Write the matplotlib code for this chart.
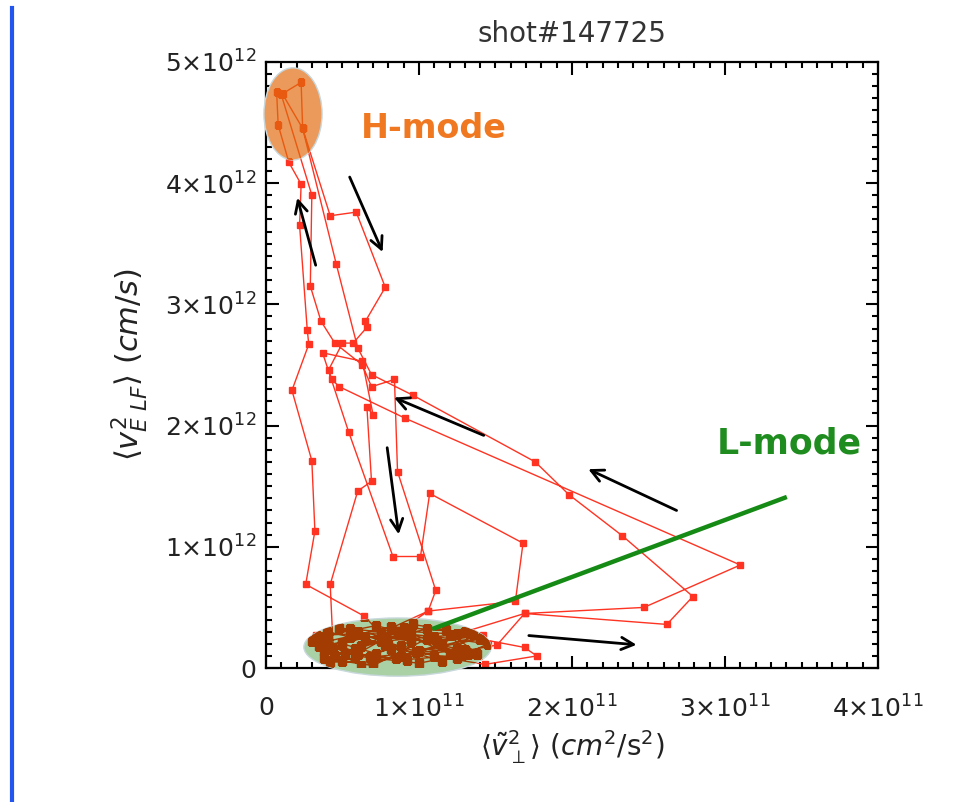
import matplotlib.pyplot as plt
from matplotlib.patches import Ellipse
from matplotlib.ticker import MultipleLocator, FixedLocator, FixedFormatter
import numpy as np

# units used for the arrays below
X_UNIT = 1e11
Y_UNIT = 1e12

# trajectory (time ordered), x in 1e11 cm^2/s^2, y in 1e12 cm/s
x_vals = [0.50, 0.72, 0.95, 0.60, 0.38, 0.85, 1.15, 1.30, 1.05, 0.78, 0.64,
          0.26, 0.32, 0.30, 0.17, 0.28, 0.27, 0.22, 0.23, 0.15, 0.08, 0.07, 0.11,
          0.24, 0.46, 0.60, 0.69, 0.96, 1.76, 1.98, 2.33, 2.79, 2.62, 1.69, 1.51,
          1.20, 0.90, 0.62, 0.42, 0.70, 1.00, 1.40, 1.69, 1.77, 1.43, 1.10, 0.80,
          0.55, 0.95, 1.25, 0.68, 0.40, 0.82, 1.18, 1.38, 0.92, 0.52, 0.33, 0.75,
          1.06, 1.11, 0.86, 0.84, 0.69, 0.63, 0.45, 0.36, 0.29, 0.30, 0.10, 0.23, 0.24,
          0.42, 0.59, 0.78, 0.65, 0.66, 0.57, 0.50, 0.41, 0.43, 0.48, 0.91, 3.10, 2.47, 1.69,
          1.25, 0.95, 0.65, 0.35, 0.50, 0.82, 1.25, 1.45, 1.10,
          0.48, 0.88, 1.32, 1.00, 0.58, 0.36, 0.72, 1.12, 1.42, 0.98, 0.62, 0.44,
          0.42, 0.60, 0.69, 0.66, 0.70, 0.63, 0.37, 0.54, 0.83, 1.01, 1.07, 1.68, 1.63, 1.06,
          0.90, 0.60, 0.30, 0.55, 0.88, 1.30, 1.20, 0.75, 0.45,
          0.40, 0.78, 1.15, 1.35, 0.96, 0.58, 0.38, 0.70, 1.05, 1.28, 0.86, 0.50]
y_vals = [0.20, 0.12, 0.22, 0.30, 0.14, 0.08, 0.20, 0.30, 0.32, 0.25, 0.43,
          0.69, 1.13, 1.71, 2.29, 2.67, 2.79, 3.65, 3.99, 4.17, 4.48, 4.75, 4.73,
          4.45, 3.33, 2.64, 2.42, 2.25, 1.70, 1.43, 1.09, 0.59, 0.36, 0.45, 0.19,
          0.12, 0.28, 0.18, 0.05, 0.05, 0.14, 0.24, 0.17, 0.10, 0.03, 0.10, 0.20,
          0.26, 0.24, 0.16, 0.09, 0.22, 0.34, 0.31, 0.12, 0.07, 0.12, 0.27, 0.29,
          0.47, 0.64, 1.62, 2.38, 2.32, 2.50, 2.68, 2.86, 3.15, 3.90, 4.73, 4.83, 4.45,
          3.73, 3.76, 3.14, 2.86, 2.81, 2.68, 2.68, 2.46, 2.38, 2.32, 2.06, 0.85, 0.50, 0.45,
          0.28, 0.30, 0.25, 0.18, 0.06, 0.16, 0.08, 0.20, 0.26,
          0.33, 0.18, 0.12, 0.04, 0.10, 0.26, 0.35, 0.22, 0.27, 0.13, 0.02, 0.15,
          0.69, 1.46, 1.54, 2.15, 2.09, 2.53, 2.60, 1.95, 0.92, 0.92, 1.44, 1.03, 0.55, 0.47,
          0.33, 0.12, 0.22, 0.32, 0.10, 0.15, 0.27, 0.22, 0.10,
          0.30, 0.19, 0.06, 0.28, 0.36, 0.16, 0.08, 0.02, 0.24, 0.11, 0.30, 0.21]

x_ticks = [0, 1, 2, 3, 4]
x_tick_labels = ['0', r'$1{\times}10^{11}$', r'$2{\times}10^{11}$', r'$3{\times}10^{11}$', r'$4{\times}10^{11}$']
y_ticks = [0, 1, 2, 3, 4, 5]
y_tick_labels = ['0', r'$1{\times}10^{12}$', r'$2{\times}10^{12}$', r'$3{\times}10^{12}$',
                 r'$4{\times}10^{12}$', r'$5{\times}10^{12}$']

# direction arrows: (start x, start y, end x, end y)
arrows = [(0.54, 4.07, 0.77, 3.41),
          (0.33, 3.30, 0.20, 3.90),
          (1.44, 1.91, 0.82, 2.24),
          (0.79, 1.84, 0.87, 1.08),
          (2.70, 1.29, 2.09, 1.65),
          (1.70, 0.27, 2.44, 0.19)]

x = np.array(x_vals) * X_UNIT
y = np.array(y_vals) * Y_UNIT

fig = plt.figure(figsize=(9.67, 8.02), dpi=100)
ax = fig.add_axes([0.275, 0.167, 0.633, 0.756])

ax.plot(x, y, '-s', color='#ff3322', lw=1.0, ms=5, zorder=2)

ax.set_xlim(0, 4 * X_UNIT)
ax.set_ylim(0, 5 * Y_UNIT)
ax.xaxis.set_major_locator(FixedLocator([t * X_UNIT for t in x_ticks]))
ax.xaxis.set_major_formatter(FixedFormatter(x_tick_labels))
ax.yaxis.set_major_locator(FixedLocator([t * Y_UNIT for t in y_ticks]))
ax.yaxis.set_major_formatter(FixedFormatter(y_tick_labels))
ax.xaxis.set_minor_locator(MultipleLocator(0.1 * X_UNIT))
ax.yaxis.set_minor_locator(MultipleLocator(0.1 * Y_UNIT))
ax.tick_params(which='both', direction='in', top=True, right=True, width=1.5, colors='black')
ax.tick_params(which='major', length=9, labelsize=18, labelcolor='#222222')
ax.tick_params(axis='x', which='major', pad=20)
ax.tick_params(axis='y', which='major', pad=7)
ax.tick_params(which='minor', length=4.5)
for s in ax.spines.values():
    s.set_linewidth(1.6)

ax.set_title('shot#147725', fontsize=20, color='#333333', pad=14)
ax.set_xlabel(r'$\langle\tilde{v}_{\perp}^{2}\rangle\ (cm^{2}/\mathrm{s}^{2})$', fontsize=20, color='#222222', labelpad=4)
ax.set_ylabel(r'$\langle v_{E\ LF}^{2}\rangle\ (cm/s)$', fontsize=22, color='#222222')
ax.yaxis.set_label_coords(-0.19, 0.5)

# H-mode / L-mode highlight ellipses
h_ell = Ellipse((0.177 * X_UNIT, 4.57 * Y_UNIT), 0.38 * X_UNIT, 0.76 * Y_UNIT,
                facecolor='#eb9a5c', edgecolor='#c8d8dc', lw=1, zorder=5, clip_on=False)
l_ell = Ellipse((0.86 * X_UNIT, 0.173 * Y_UNIT), 1.224 * X_UNIT, 0.48 * Y_UNIT,
                facecolor='#aad0a5', edgecolor='#c8d8dc', lw=1, zorder=5, clip_on=False)
ax.add_patch(h_ell)
ax.add_patch(l_ell)
h_line, = ax.plot(x, y, '-s', color='#e85a10', lw=1.0, ms=5, zorder=6)
h_line.set_clip_path(h_ell)
l_line, = ax.plot(x, y, '-s', color='#a33c02', lw=1.0, ms=5.5, zorder=6)
l_line.set_clip_path(l_ell)

for x0, y0, x1, y1 in arrows:
    ax.annotate('', xy=(x1 * X_UNIT, y1 * Y_UNIT), xytext=(x0 * X_UNIT, y0 * Y_UNIT),
                arrowprops=dict(arrowstyle='->', color='black', lw=2, mutation_scale=22),
                zorder=7)

ax.plot([1.087 * X_UNIT, 3.404 * X_UNIT], [0.322 * Y_UNIT, 1.411 * Y_UNIT],
        color='#158a15', lw=3.2, zorder=7, clip_on=False, solid_capstyle='butt')

ax.text(1.10 * X_UNIT, 4.45 * Y_UNIT, 'H-mode', color='#f07820', fontsize=24,
        fontweight='bold', ha='center', va='center', zorder=8)
ax.text(3.42 * X_UNIT, 1.85 * Y_UNIT, 'L-mode', color='#1e8c1e', fontsize=25,
        fontweight='bold', ha='center', va='center', zorder=8)

# blue margin line on the left of the slide
fig.add_artist(plt.Line2D([0.012, 0.012], [0.0, 0.99], color='#2255ee', lw=3))

fig.savefig('out.png', dpi=100)
